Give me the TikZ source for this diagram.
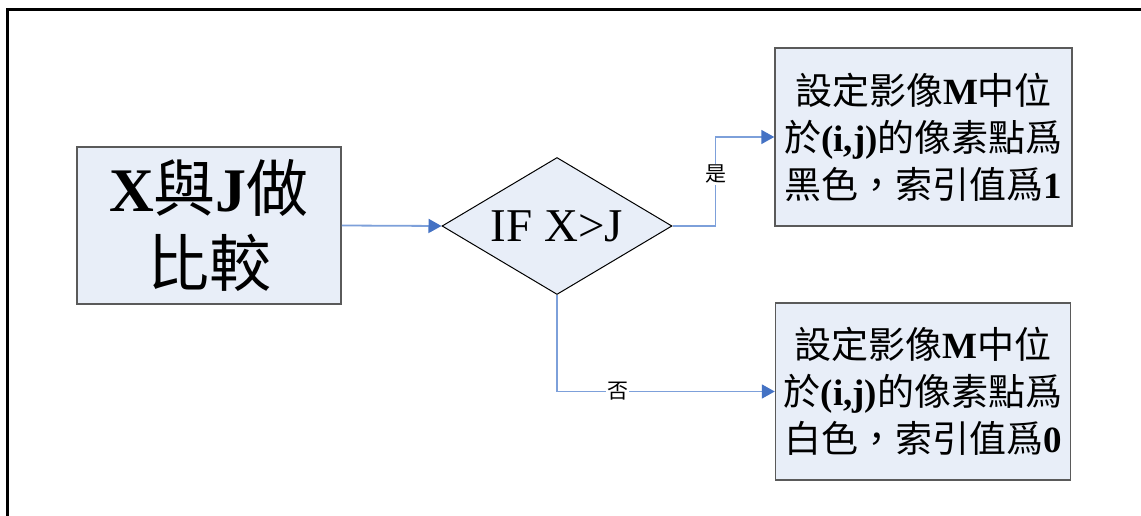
\documentclass[tikz,border=0pt]{standalone}
\usepackage{fontspec}
\setmainfont{Liberation Serif}
\newfontfamily\cjk{Noto Sans CJK TC}
\newcommand{\zh}[1]{{\cjk #1}}
\usetikzlibrary{shapes.geometric,arrows.meta}
\definecolor{boxfill}{RGB}{232,238,248}
\definecolor{linkline}{RGB}{125,160,218}
\definecolor{arrowblue}{RGB}{68,114,196}
\definecolor{boxedge}{RGB}{90,90,90}
\begin{document}
\begin{tikzpicture}[x=1pt,y=-1pt,
  procbox/.style={draw=boxedge,line width=1.5pt,fill=boxfill,inner sep=0pt,align=center},
  decbox/.style={diamond,draw=black,line width=1pt,fill=boxfill,inner sep=0pt,shape aspect=1.68},
  link/.style={draw=linkline,line width=1.8pt,-{Triangle[length=13pt,width=14pt,color=arrowblue]}},
  lab/.style={fill=white,inner sep=1pt,font=\fontsize{21}{21}\selectfont\cjk}]
\useasboundingbox (0,0) rectangle (1141,516);
\fill[white] (0,0) rectangle (1141,516);
\draw[line width=3pt] (7,516) -- (7,10) -- (1141,10);

\node[procbox,minimum width=264pt,minimum height=157pt,font=\fontsize{62}{75}\selectfont] (cmp) at (209,225.5)
  {\textbf{X}\zh{與}\textbf{J}\zh{做}\\\zh{比較}};
\node[decbox,minimum width=230pt,minimum height=137pt,font=\fontsize{47}{47}\selectfont] (if) at (557,226) {IF X>J};
\node[procbox,minimum width=297pt,minimum height=178pt,font=\fontsize{37}{47}\selectfont] (blk) at (923.5,137)
  {\zh{設定影像}\textbf{M}\zh{中位}\\\zh{於}\textbf{(i,j)}\zh{的像素點爲}\\\zh{黑色，索引值爲}\textbf{1}};
\node[procbox,minimum width=295pt,minimum height=177pt,font=\fontsize{37}{47}\selectfont] (wht) at (923,391.5)
  {\zh{設定影像}\textbf{M}\zh{中位}\\\zh{於}\textbf{(i,j)}\zh{的像素點爲}\\\zh{白色，索引值爲}\textbf{0}};

\draw[link] (cmp.east) -- (if.west);
\draw[link] (if.east) -- ++(43,0) |- node[lab,pos=0.29]{是} (blk.west);
\draw[link] (if.south) |- node[lab,pos=0.64]{否} (wht.west);
\end{tikzpicture}
\end{document}
